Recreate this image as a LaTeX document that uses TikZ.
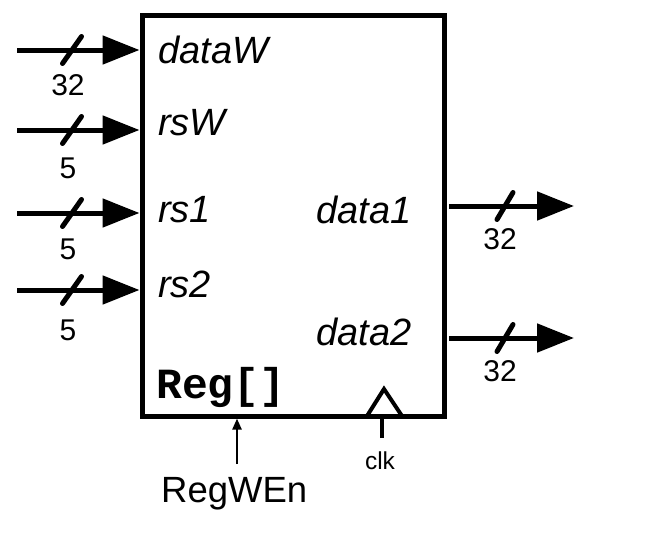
\documentclass[tikz,border=0pt]{standalone}
\usepackage{fontspec}
\setmainfont{Liberation Sans}
\newfontfamily\monob{Liberation Mono}
\usetikzlibrary{arrows.meta}
\begin{document}
\begin{tikzpicture}[x=1pt,y=-1pt,
  bus/.style={line width=5pt, -{Triangle[length=37pt,width=28pt]}},
  slashmark/.style={line width=5pt, line cap=round},
  portlbl/.style={inner sep=0pt, font=\fontsize{38}{40}\selectfont\itshape},
  widthlbl/.style={inner sep=0pt, font=\fontsize{30}{32}\selectfont},
  thinarrow/.style={line width=2.2pt, -{Triangle[length=11pt,width=9pt]}}]
\useasboundingbox (0,0) rectangle (652,557);
% register box
\node[draw, line width=5pt, minimum width=302pt, minimum height=400.5pt, inner sep=0pt] (reg) at (293,215.75) {};
% port labels
\node[portlbl, anchor=base west] (ldataW) at (158,63) {dataW};
\node[portlbl, anchor=base west] (lrsW) at (158,135) {rsW};
\node[portlbl, anchor=base west] (lrs1) at (158,222) {rs1};
\node[portlbl, anchor=base west] (lrs2) at (158,297) {rs2};
\node[portlbl, anchor=base east] (ldata1) at (412,223) {data1};
\node[portlbl, anchor=base east] (ldata2) at (412,345) {data2};
\node[inner sep=0pt, anchor=base west, font=\monob\bfseries\fontsize{43}{45}\selectfont] (lreg) at (156,398) {Reg[]};
% input buses
\coordinate (iW) at (17,50);
\coordinate (iRW) at (17,130);
\coordinate (iR1) at (17,213);
\coordinate (iR2) at (17,290);
\draw[bus] (iW) -- (iW -| reg.west);
\draw[bus] (iRW) -- (iRW -| reg.west);
\draw[bus] (iR1) -- (iR1 -| reg.west);
\draw[bus] (iR2) -- (iR2 -| reg.west);
\draw[slashmark] (72,50) +(-9.5,13.5) -- +(9.5,-13.5);
\draw[slashmark] (72,130) +(-9.5,13.5) -- +(9.5,-13.5);
\draw[slashmark] (72,213) +(-9.5,13.5) -- +(9.5,-13.5);
\draw[slashmark] (72,290) +(-9.5,13.5) -- +(9.5,-13.5);
\node[widthlbl] (wW) at (68,85) {32};
\node[widthlbl] (wRW) at (68,168) {5};
\node[widthlbl] (wR1) at (68,249) {5};
\node[widthlbl] (wR2) at (68,330) {5};
% output buses
\coordinate (oD1) at (574,206);
\coordinate (oD2) at (574,338);
\draw[bus, shorten <=2.5pt] (oD1 -| reg.east) -- (oD1);
\draw[bus, shorten <=2.5pt] (oD2 -| reg.east) -- (oD2);
\draw[slashmark] (505,206) +(-8,13.5) -- +(8,-13.5);
\draw[slashmark] (505,338) +(-8,13.5) -- +(8,-13.5);
\node[widthlbl] (wD1) at (500,239) {32};
\node[widthlbl] (wD2) at (500,371) {32};
% write enable
\node[inner sep=0pt, anchor=base west, font=\fontsize{36.5}{38}\selectfont] (rwe) at (161,502) {RegWEn};
\coordinate (rwetop) at (237,464);
\draw[thinarrow] (rwetop) -- (rwetop |- reg.south);
% clock
\draw[line width=4pt, line join=miter] (367,416) -- (384,389) -- (402,416);
\coordinate (clkin) at (382,438);
\draw[line width=3.5pt] (clkin) -- (clkin |- reg.south);
\node[inner sep=0pt, font=\fontsize{24.5}{26}\selectfont] (clk) at (380,461) {clk};
\end{tikzpicture}
\end{document}
